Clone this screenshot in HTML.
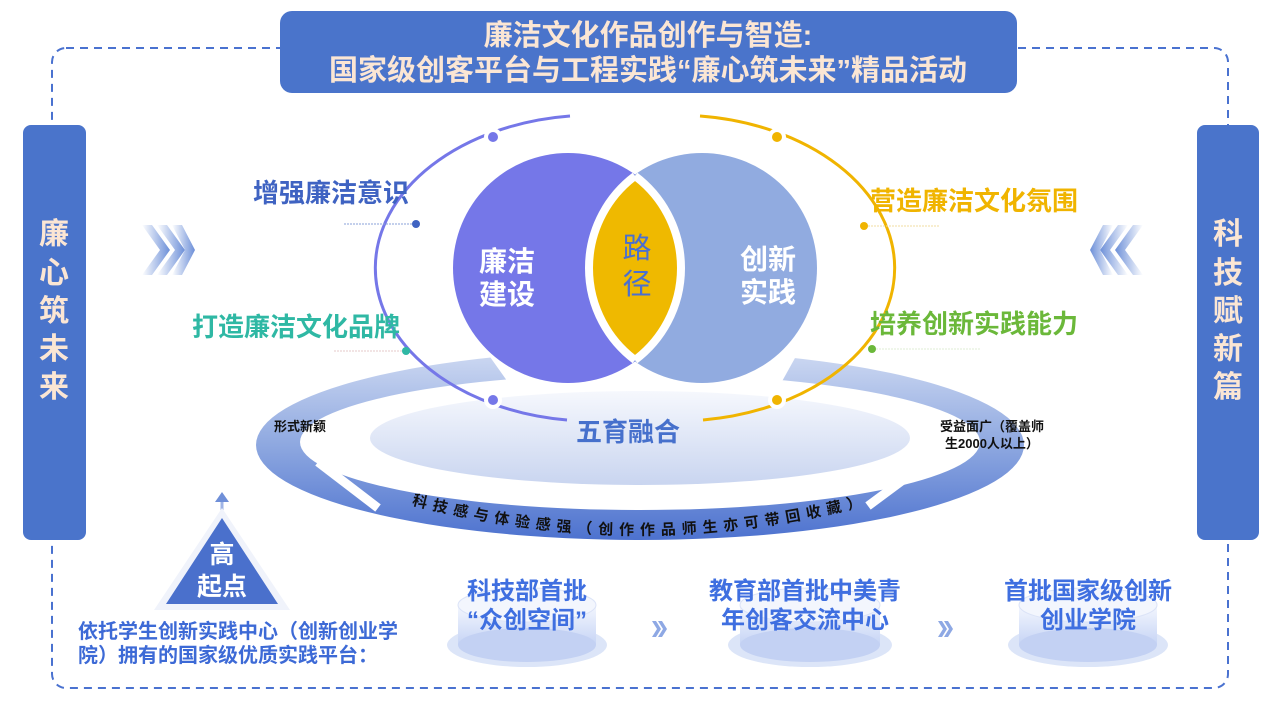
<!DOCTYPE html>
<html><head><meta charset="utf-8"><style>
html,body{margin:0;padding:0;background:#fff;}
svg{display:block;font-family:"Liberation Sans","Noto Sans CJK SC",sans-serif;font-weight:bold;}
</style></head><body>
<svg width="1271" height="702" viewBox="0 0 1271 702" xmlns="http://www.w3.org/2000/svg">
<defs>
<linearGradient id="ring" x1="0" y1="0" x2="0" y2="1">
<stop offset="0" stop-color="#cfdaf2"/><stop offset="0.5" stop-color="#8ea8e0"/><stop offset="1" stop-color="#4d72cf"/></linearGradient>
<linearGradient id="inner" x1="0" y1="0" x2="0" y2="1">
<stop offset="0" stop-color="#f6f8fd"/><stop offset="1" stop-color="#c9d5f0"/></linearGradient>
<linearGradient id="chevL" x1="0" y1="0" x2="1" y2="0"><stop offset="0" stop-color="#fff"/><stop offset="1" stop-color="#6c8fd8"/></linearGradient>
<linearGradient id="chevR" x1="1" y1="0" x2="0" y2="0"><stop offset="0" stop-color="#fff"/><stop offset="1" stop-color="#6c8fd8"/></linearGradient>
<linearGradient id="cyl" x1="0" y1="0" x2="0" y2="1"><stop offset="0" stop-color="#f4f7fe"/><stop offset="1" stop-color="#c6d4f5"/></linearGradient>
<clipPath id="lc"><circle cx="702" cy="268" r="115"/></clipPath>
<path id="tp" d="M 395 500 Q 640 570 885 500"/>
</defs>

<rect x="52" y="48" width="1176" height="640" rx="14" fill="none" stroke="#4a72d0" stroke-width="2" stroke-dasharray="8 6"/>
<rect x="280" y="11" width="737" height="82" rx="12" fill="#4a74cb"/>
<text x="648" y="45" text-anchor="middle" font-size="29" fill="#fbe6d4">廉洁文化作品创作与智造:</text>
<text x="648" y="80" text-anchor="middle" font-size="29" fill="#fbe6d4">国家级创客平台与工程实践“廉心筑未来”精品活动</text>

<rect x="23" y="125" width="63" height="415" rx="8" fill="#4a74cb"/>
<g font-size="30" fill="#fbe6d4" text-anchor="middle">
<text x="54" y="244">廉</text><text x="54" y="283">心</text><text x="54" y="321">筑</text><text x="54" y="359">未</text><text x="54" y="397">来</text>
</g>
<rect x="1197" y="125" width="62" height="415" rx="8" fill="#4a74cb"/>
<g font-size="30" fill="#fbe6d4" text-anchor="middle">
<text x="1228" y="244">科</text><text x="1228" y="283">技</text><text x="1228" y="321">赋</text><text x="1228" y="359">新</text><text x="1228" y="397">篇</text>
</g>

<g fill="url(#chevL)">
<path d="M142 225 L152 225 L170 250 L152 275 L142 275 L160 250Z"/>
<path d="M157 225 L167 225 L185 250 L167 275 L157 275 L175 250Z"/>
<path d="M172 225 L182 225 L195 250 L182 275 L172 275 L185 250Z"/>
</g>
<g fill="url(#chevR)">
<path d="M1143 225 L1133 225 L1115 250 L1133 275 L1143 275 L1125 250Z"/>
<path d="M1128 225 L1118 225 L1100 250 L1118 275 L1128 275 L1110 250Z"/>
<path d="M1113 225 L1103 225 L1090 250 L1103 275 L1113 275 L1100 250Z"/>
</g>

<path fill-rule="evenodd" fill="url(#ring)" d="M256 445 A384 95 0 1 0 1024 445 A384 95 0 1 0 256 445Z M300 442 A340 68 0 1 1 980 442 A340 68 0 1 1 300 442Z"/>
<ellipse cx="640" cy="438" rx="270" ry="47" fill="url(#inner)"/>
<path d="M318 462 L378 508" stroke="#fff" stroke-width="9"/>
<path d="M930 460 L868 506" stroke="#fff" stroke-width="9"/>
<path d="M478 340 L510 385 L780 385 L805 340Z" fill="#fff"/>

<path d="M570 116 A218 153 0 0 0 567 420" fill="none" stroke="#7577e8" stroke-width="3"/>
<path d="M700 116 A218 153 0 0 1 703 420" fill="none" stroke="#f0b400" stroke-width="3"/>
<g fill="#fff"><circle cx="493" cy="137" r="9"/><circle cx="493" cy="400" r="9"/><circle cx="777" cy="137" r="9"/><circle cx="777" cy="400" r="9"/></g>
<circle cx="493" cy="137" r="5" fill="#7577e8"/><circle cx="493" cy="400" r="5" fill="#7577e8"/>
<circle cx="777" cy="137" r="5" fill="#f0b400"/><circle cx="777" cy="400" r="5" fill="#f0b400"/>

<circle cx="568" cy="268" r="115" fill="#7577e8"/>
<circle cx="702" cy="268" r="115" fill="#91abe0"/>
<g clip-path="url(#lc)"><circle cx="568" cy="268" r="111" fill="#efb900"/></g>
<path d="M635 176 A115 115 0 0 1 635 360" fill="none" stroke="#fff" stroke-width="8"/>
<path d="M635 176 A115 115 0 0 0 635 360" fill="none" stroke="#fff" stroke-width="8"/>
<g font-size="28" fill="#fff" text-anchor="middle">
<text x="507" y="271">廉洁</text><text x="507" y="304">建设</text>
<text x="768" y="269">创新</text><text x="768" y="302">实践</text>
</g>
<text x="637" y="258" font-size="29" fill="#4a6fd0" text-anchor="middle" font-weight="normal">路</text>
<text x="637" y="294" font-size="29" fill="#4a6fd0" text-anchor="middle" font-weight="normal">径</text>

<text x="628" y="441" font-size="26" fill="#4670cc" text-anchor="middle">五育融合</text>
<text x="300" y="431" font-size="13" fill="#111" text-anchor="middle">形式新颖</text>
<text x="940" y="431" font-size="13" fill="#111">受益面广（覆盖师</text>
<text x="945" y="448" font-size="13" fill="#111">生2000人以上）</text>
<text font-size="15" fill="#111" letter-spacing="6"><textPath href="#tp" startOffset="50%" text-anchor="middle">科技感与体验感强（创作作品师生亦可带回收藏）</textPath></text>

<text x="253" y="202" font-size="26" fill="#3f63c2">增强廉洁意识</text>
<line x1="344" y1="224" x2="412" y2="224" stroke="#8aa2d8" stroke-width="1" stroke-dasharray="2 1"/>
<circle cx="416" cy="224" r="4" fill="#3f63c2"/>
<text x="192" y="336" font-size="26" fill="#2fb8a4">打造廉洁文化品牌</text>
<line x1="334" y1="351" x2="402" y2="351" stroke="#e5c8c8" stroke-width="1" stroke-dasharray="2 1"/>
<circle cx="406" cy="351" r="4" fill="#2fb8a4"/>
<text x="870" y="210" font-size="26" fill="#f0b400">营造廉洁文化氛围</text>
<line x1="868" y1="226" x2="940" y2="226" stroke="#f0dca0" stroke-width="1" stroke-dasharray="2 1"/>
<circle cx="864" cy="226" r="4" fill="#f0b400"/>
<text x="870" y="333" font-size="26" fill="#6bb83a">培养创新实践能力</text>
<line x1="876" y1="349" x2="980" y2="349" stroke="#dfeed5" stroke-width="1" stroke-dasharray="2 1"/>
<circle cx="872" cy="349" r="4" fill="#6bb83a"/>

<line x1="222" y1="500" x2="222" y2="520" stroke="#9fb4e6" stroke-width="3"/>
<path d="M215 502 L222 492 L229 502Z" fill="#6f8fd8"/>
<path d="M222 508 L290 610 L154 610Z" fill="#f0f3fb"/>
<path d="M222 518 L278 604 L166 604Z" fill="#4a70cc"/>
<text x="222" y="563" font-size="25" fill="#fff" text-anchor="middle">高</text>
<text x="222" y="595" font-size="25" fill="#fff" text-anchor="middle">起点</text>
<text x="78" y="638" font-size="20" fill="#3d6ad6">依托学生创新实践中心（创新创业学</text>
<text x="78" y="662" font-size="20" fill="#3d6ad6">院）拥有的国家级优质实践平台：</text>

<g>
<ellipse cx="527" cy="645" rx="80" ry="22" fill="#dce5f8"/>
<rect x="458" y="605" width="138" height="40" fill="url(#cyl)"/>
<ellipse cx="527" cy="645" rx="69" ry="17" fill="#c3d1f3"/>
<ellipse cx="527" cy="605" rx="69" ry="17" fill="#f3f6fd" stroke="#dbe3f7"/>
<text x="527" y="599" font-size="24" fill="#3f6fe0" text-anchor="middle">科技部首批</text>
<text x="527" y="628" font-size="24" fill="#3f6fe0" text-anchor="middle">“众创空间”</text>
</g>
<g>
<ellipse cx="810" cy="645" rx="82" ry="22" fill="#dce5f8"/>
<rect x="740" y="605" width="140" height="40" fill="url(#cyl)"/>
<ellipse cx="810" cy="645" rx="70" ry="17" fill="#c3d1f3"/>
<ellipse cx="810" cy="605" rx="70" ry="17" fill="#f3f6fd" stroke="#dbe3f7"/>
<text x="805" y="599" font-size="24" fill="#3f6fe0" text-anchor="middle">教育部首批中美青</text>
<text x="805" y="628" font-size="24" fill="#3f6fe0" text-anchor="middle">年创客交流中心</text>
</g>
<g>
<ellipse cx="1088" cy="645" rx="80" ry="22" fill="#dce5f8"/>
<rect x="1019" y="605" width="138" height="40" fill="url(#cyl)"/>
<ellipse cx="1088" cy="645" rx="69" ry="17" fill="#c3d1f3"/>
<ellipse cx="1088" cy="605" rx="69" ry="17" fill="#f3f6fd" stroke="#dbe3f7"/>
<text x="1088" y="599" font-size="24" fill="#3f6fe0" text-anchor="middle">首批国家级创新</text>
<text x="1088" y="628" font-size="24" fill="#3f6fe0" text-anchor="middle">创业学院</text>
</g>
<g fill="#8ea8e4">
<path d="M652 621 L656 621 L661 629 L656 637 L652 637 L657 629Z"/><path d="M658 621 L662 621 L667 629 L662 637 L658 637 L663 629Z"/>
<path d="M938 621 L942 621 L947 629 L942 637 L938 637 L943 629Z"/><path d="M944 621 L948 621 L953 629 L948 637 L944 637 L949 629Z"/>
</g>
</svg>
</body></html>
